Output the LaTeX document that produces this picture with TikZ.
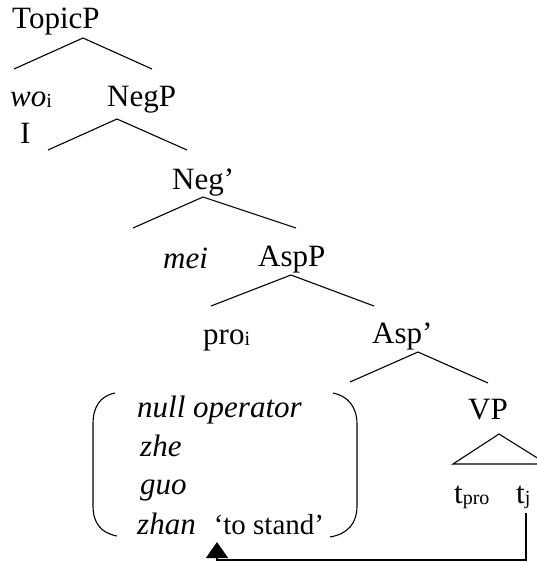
\documentclass[tikz,border=0pt]{standalone}
\usepackage{fontspec}
\setmainfont{Liberation Serif}
\usetikzlibrary{arrows.meta}
\newcommand\mysub[1]{{\fontsize{20}{20}\selectfont\raisebox{-1pt}{#1}}}
\begin{document}
\begin{tikzpicture}[x=1pt,y=-1pt,
  lbl/.style={anchor=base west, inner sep=0pt, font=\fontsize{31}{37}\selectfont},
  branch/.style={line width=1.1pt, line join=miter},
  ]
\useasboundingbox (0,0) rectangle (537,562);
\clip (0,0) rectangle (537,562);

% labels
\node[lbl] (topicp) at (12,28) {TopicP};
\node[lbl] (wo) at (10,106) {\textit{wo}\mysub{i}};
\node[lbl] (negp) at (107,106) {NegP};
\node[lbl] (I) at (20,143) {I};
\node[lbl] (negbar) at (172,189) {Neg’};
\node[lbl] (mei) at (163,268) {\textit{mei}};
\node[lbl] (aspp) at (258,266) {AspP};
\node[lbl] (pro) at (203,344) {pro\mysub{i}};
\node[lbl] (aspbar) at (372,343) {Asp’};
\node[lbl] (vp) at (468,419) {VP};
\node[lbl] (null) at (137,417) {\textit{null operator}};
\node[lbl] (zhe) at (140,456) {\textit{zhe}};
\node[lbl] (guo) at (140,494) {\textit{guo}};
\node[lbl] (zhan) at (137,534) {\textit{zhan}\hspace{18pt}{\fontsize{29}{34}\selectfont ‘to stand’}};
\node[lbl] (tpro) at (454,503) {t\mysub{pro}};
\node[lbl] (tj) at (516,503) {t\mysub{j}};

% branch points
\coordinate (a0) at (83,38);   \coordinate (a1) at (14,69);   \coordinate (a2) at (152,69);
\coordinate (b0) at (117,119); \coordinate (b1) at (48,150);  \coordinate (b2) at (187,150);
\coordinate (c0) at (203,197); \coordinate (c1) at (133,228); \coordinate (c2) at (296,228);
\coordinate (d0) at (291,275); \coordinate (d1) at (211,306); \coordinate (d2) at (374,306);
\coordinate (e0) at (418,352); \coordinate (e1) at (350,382); \coordinate (e2) at (488,383);
\coordinate (v0) at (499,434); \coordinate (v1) at (453,464); \coordinate (v2) at (547,464);

\draw[branch] (a1) -- (a0) -- (a2);
\draw[branch] (b1) -- (b0) -- (b2);
\draw[branch] (c1) -- (c0) -- (c2);
\draw[branch] (d1) -- (d0) -- (d2);
\draw[branch] (e1) -- (e0) -- (e2);
\draw[branch] (v0) -- (v1) -- (v2) -- cycle;

% parentheses
\draw[branch] (115,393) .. controls (100,396) and (93,407) .. (93,424)
  -- (93,506) .. controls (93,523) and (101,533) .. (117,536);
\draw[branch] (333,393) .. controls (348,396) and (357,407) .. (357,424)
  -- (357,506) .. controls (357,523) and (348,534) .. (330,537);

% movement arrow
\coordinate (tjfoot) at (526,513);
\coordinate (corner) at (526,560);
\coordinate (tip) at (217,542);
\draw[branch, -{Triangle[length=16pt,width=22pt]}] (tjfoot) -- (corner) -| (tip);
\end{tikzpicture}
\end{document}
